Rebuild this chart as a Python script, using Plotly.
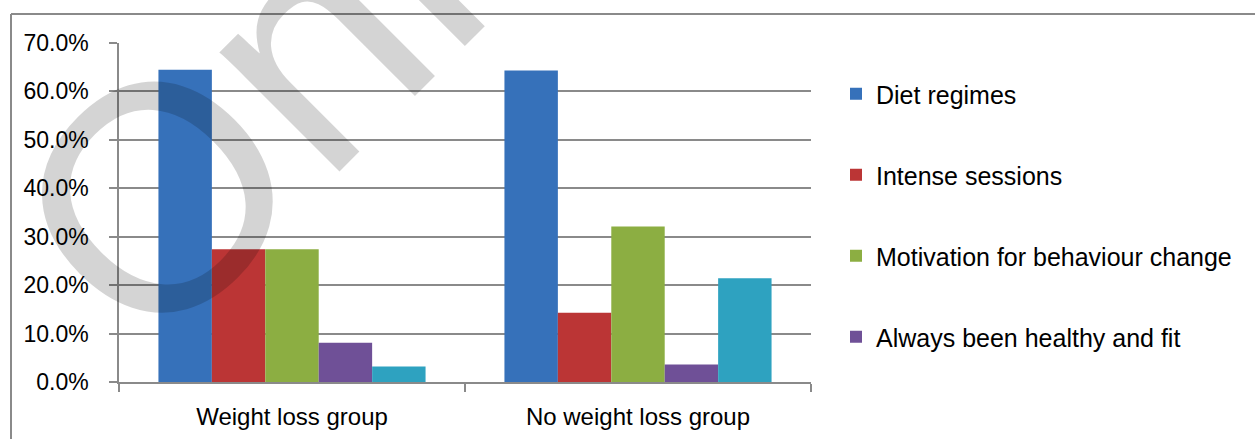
import plotly.graph_objects as go

categories = ["Weight loss group", "No weight loss group"]
series_names = ["Diet regimes", "Intense sessions", "Motivation for behaviour change",
                "Always been healthy and fit", "Other"]
diet_regimes = [64.5, 64.3]
intense_sessions = [27.4, 14.3]
motivation = [27.4, 32.1]
always_healthy = [8.1, 3.6]
other = [3.2, 21.4]
series_values = [diet_regimes, intense_sessions, motivation, always_healthy, other]
colors = ["#3671ba", "#bb3535", "#8cae42", "#6f5097", "#2ea2c0"]
show_legend = [True, True, True, True, False]
y_ticks = [0, 10, 20, 30, 40, 50, 60, 70]
y_tick_labels = [f"{v:.1f}%" for v in y_ticks]

FONT = "Liberation Sans"
W, H = 1255, 439
ML, MR, MT, MB = 119, 444, 43, 57
pw = W - ML - MR
ph = H - MT - MB

fig = go.Figure()
for name, vals, col, sl in zip(series_names, series_values, colors, show_legend):
    fig.add_trace(go.Bar(
        x=categories, y=vals, name=name, marker=dict(color=col, line=dict(width=0)),
        showlegend=sl, legendgroup=name,
    ))

def px_x(p):
    return (p - ML) / pw

def px_y(p):
    return (H - MB - p) / ph

grey = "#8a8a8a"
fig.update_layout(
    width=W, height=H,
    margin=dict(l=ML, r=MR, t=MT, b=MB, pad=0, autoexpand=False),
    paper_bgcolor="white", plot_bgcolor="white",
    barmode="group", bargap=0.228, bargroupgap=0,
    font=dict(family=FONT, color="#000000"),
    legend=dict(
        x=px_x(836), xanchor="left", y=px_y(71), yanchor="top",
        font=dict(size=25, color="#000000", family=FONT),
        traceorder="grouped", tracegroupgap=45.5, bgcolor="rgba(0,0,0,0)",
    ),
    xaxis=dict(
        showline=True, linecolor=grey, linewidth=1.5, ticks="outside", ticklen=8,
        tickcolor=grey, tickwidth=1.5, tickson="boundaries", showgrid=False,
        tickfont=dict(size=24, color="#000000", family=FONT), ticklabelstandoff=12,
        automargin=False,
    ),
    yaxis=dict(
        range=[0, 70], tickvals=y_ticks, ticktext=y_tick_labels,
        showline=True, linecolor=grey, linewidth=1.5, ticks="outside", ticklen=8,
        tickcolor=grey, tickwidth=1.5, showgrid=True, gridcolor=grey, gridwidth=1.5,
        zeroline=False, tickfont=dict(size=23, color="#000000", family=FONT),
        ticklabelstandoff=16, automargin=False,
    ),
    shapes=[
        dict(type="line", xref="paper", yref="paper", x0=px_x(11), x1=px_x(1265),
             y0=px_y(14), y1=px_y(14), line=dict(color=grey, width=2)),
        dict(type="line", xref="paper", yref="paper", x0=px_x(11), x1=px_x(11),
             y0=px_y(14), y1=px_y(450), line=dict(color=grey, width=2)),
    ],
    annotations=[
        dict(text="Online", xref="paper", yref="paper", x=px_x(396), y=px_y(-42),
             xanchor="center", yanchor="middle", showarrow=False, textangle=-45,
             font=dict(size=320, color="rgba(0,0,0,0.17)", family=FONT)),
    ],
)

fig.write_html("out.html")
